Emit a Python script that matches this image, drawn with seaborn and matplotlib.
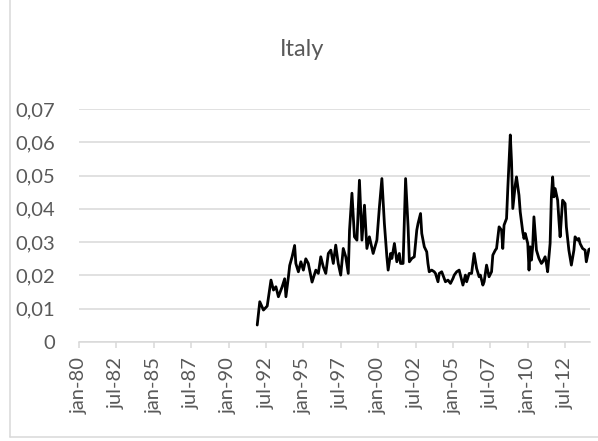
import matplotlib
matplotlib.use("Agg")
import matplotlib.pyplot as plt
from matplotlib.lines import Line2D
import seaborn as sns
import pandas as pd

# Monthly series for Italy
months = [
    "1991-12", "1992-02", "1992-05", "1992-08", "1992-11", "1993-01", "1993-03", "1993-05",
    "1993-08", "1993-10", "1993-11", "1994-01", "1994-02", "1994-04", "1994-06", "1994-07",
    "1994-09", "1994-11", "1995-01", "1995-03", "1995-05", "1995-08", "1995-11", "1996-01",
    "1996-03", "1996-05", "1996-07", "1996-09", "1996-11", "1997-01", "1997-03", "1997-05",
    "1997-07", "1997-09", "1997-11", "1998-01", "1998-02", "1998-04", "1998-06", "1998-08",
    "1998-10", "1998-12", "1999-02", "1999-04", "1999-06", "1999-09", "1999-12", "2000-02",
    "2000-04", "2000-06", "2000-08", "2000-09", "2000-11", "2000-12", "2001-02", "2001-04",
    "2001-06", "2001-07", "2001-09", "2001-11", "2002-01", "2002-02", "2002-04", "2002-06",
    "2002-08", "2002-09", "2002-11", "2002-12", "2003-02", "2003-04", "2003-05", "2003-06",
    "2003-08", "2003-10", "2003-11", "2004-01", "2004-02", "2004-04", "2004-06", "2004-07",
    "2004-09", "2004-11", "2005-01", "2005-02", "2005-04", "2005-06", "2005-07", "2005-09",
    "2005-11", "2005-12", "2006-02", "2006-04", "2006-06", "2006-08", "2006-10", "2006-11",
    "2007-01", "2007-02", "2007-04", "2007-06", "2007-08", "2007-09", "2007-11", "2007-12",
    "2008-02", "2008-04", "2008-05", "2008-06", "2008-08", "2008-09", "2008-11", "2008-12",
    "2009-01", "2009-03", "2009-04", "2009-06", "2009-07", "2009-09", "2009-10", "2009-11",
    "2010-01", "2010-02", "2010-03", "2010-04", "2010-05", "2010-06", "2010-08", "2010-10",
    "2010-12", "2011-01", "2011-03", "2011-04", "2011-05", "2011-07", "2011-08", "2011-09",
    "2011-10", "2011-11", "2012-01", "2012-02", "2012-03", "2012-05", "2012-07", "2012-08",
    "2012-10", "2012-12", "2013-02", "2013-03", "2013-05", "2013-06", "2013-07", "2013-09",
    "2013-11", "2013-12", "2014-02", "2014-03",
]
rate = [
    0.0051, 0.0121, 0.0096, 0.0108, 0.0186, 0.0156, 0.0166, 0.0136,
    0.0166, 0.0190, 0.0136, 0.0196, 0.0230, 0.0256, 0.0290, 0.0236,
    0.0211, 0.0241, 0.0216, 0.0250, 0.0236, 0.0180, 0.0216, 0.0206,
    0.0256, 0.0226, 0.0206, 0.0266, 0.0276, 0.0236, 0.0291, 0.0236,
    0.0201, 0.0281, 0.0256, 0.0206, 0.0336, 0.0447, 0.0316, 0.0306,
    0.0486, 0.0306, 0.0411, 0.0281, 0.0316, 0.0266, 0.0306, 0.0406,
    0.0491, 0.0356, 0.0256, 0.0216, 0.0266, 0.0251, 0.0296, 0.0241,
    0.0266, 0.0236, 0.0236, 0.0491, 0.0346, 0.0241, 0.0251, 0.0256,
    0.0336, 0.0356, 0.0386, 0.0326, 0.0286, 0.0271, 0.0236, 0.0211,
    0.0216, 0.0211, 0.0206, 0.0181, 0.0206, 0.0211, 0.0191, 0.0181,
    0.0186, 0.0176, 0.0191, 0.0201, 0.0211, 0.0216, 0.0201, 0.0171,
    0.0201, 0.0181, 0.0206, 0.0206, 0.0266, 0.0221, 0.0196, 0.0201,
    0.0171, 0.0181, 0.0231, 0.0196, 0.0211, 0.0261, 0.0276, 0.0281,
    0.0346, 0.0336, 0.0281, 0.0351, 0.0371, 0.0462, 0.0622, 0.0541,
    0.0401, 0.0471, 0.0496, 0.0441, 0.0391, 0.0331, 0.0311, 0.0326,
    0.0296, 0.0216, 0.0286, 0.0246, 0.0286, 0.0376, 0.0276, 0.0251,
    0.0236, 0.0241, 0.0256, 0.0236, 0.0211, 0.0296, 0.0436, 0.0496,
    0.0436, 0.0461, 0.0426, 0.0366, 0.0316, 0.0426, 0.0416, 0.0346,
    0.0276, 0.0231, 0.0276, 0.0316, 0.0306, 0.0311, 0.0296, 0.0281,
    0.0276, 0.0241, 0.0278, 0.0280,
]

# Axis ticks: every 30 months from Jan 1980
tick_dates = ["1980-01", "1982-07", "1985-01", "1987-07", "1990-01", "1992-07", "1995-01",
              "1997-07", "2000-01", "2002-07", "2005-01", "2007-07", "2010-01", "2012-07"]
tick_labels = ["jan-80", "jul-82", "jan-85", "jul-87", "jan-90", "jul-92", "jan-95",
               "jul-97", "jan-00", "jul-02", "jan-05", "jul-07", "jan-10", "jul-12"]
y_ticks = [0, 0.01, 0.02, 0.03, 0.04, 0.05, 0.06, 0.07]
y_labels = ["0", "0,01", "0,02", "0,03", "0,04", "0,05", "0,06", "0,07"]
title = "Italy"

sns.set_style("white")
plt.rcParams["font.family"] = ["Lato", "DejaVu Sans"]

text_color = "#595959"
grid_color = "#d9d9d9"

df = pd.DataFrame({"date": pd.to_datetime(months), "rate": rate})

W, H = 598, 441
fig = plt.figure(figsize=(W / 100, H / 100), dpi=100)
ax = fig.add_axes([79 / W, 1 - 342 / H, 511 / W, 233 / H])

sns.lineplot(data=df, x="date", y="rate", ax=ax, color="black", linewidth=2.0)

ax.set_xlim(pd.Timestamp("1980-01-01"), pd.Timestamp("2014-03-01"))
ax.set_ylim(0, 0.07)

ax.set_yticks(y_ticks)
ax.set_yticklabels(y_labels)
ax.set_xticks(pd.to_datetime(tick_dates))
ax.set_xticklabels(tick_labels, rotation=90)

ax.yaxis.grid(True, color=grid_color, linewidth=1.1)
ax.xaxis.grid(False)
ax.set_axisbelow(True)

for side in ["top", "right", "left"]:
    ax.spines[side].set_visible(False)
ax.spines["bottom"].set_color(grid_color)
ax.spines["bottom"].set_linewidth(1.1)

ax.tick_params(axis="y", length=0, pad=17, labelsize=14.5, labelcolor=text_color)
ax.tick_params(axis="x", length=4, width=1.1, color=grid_color, pad=7,
               labelsize=14.5, labelcolor=text_color, bottom=True)

ax.set_xlabel("")
ax.set_ylabel("")

fig.text(302 / W, 1 - 56 / H, title, ha="center", va="baseline",
         fontsize=17, color=text_color)

# Chart area border
fig.add_artist(Line2D([10 / W, 10 / W], [1 - 437 / H, 1.0], transform=fig.transFigure,
                      color=grid_color, linewidth=1.1))
fig.add_artist(Line2D([10 / W, 1.0], [1 - 437 / H, 1 - 437 / H], transform=fig.transFigure,
                      color=grid_color, linewidth=1.1))

fig.savefig("out.png", dpi=100)
